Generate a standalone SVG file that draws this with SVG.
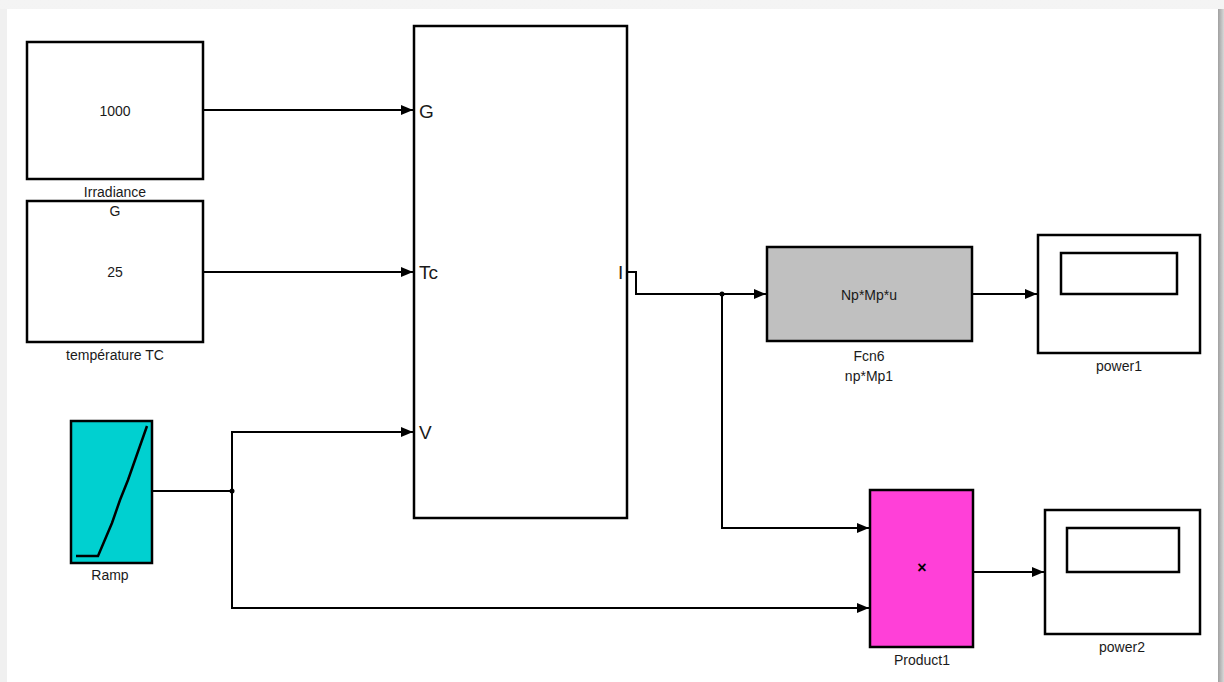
<svg xmlns="http://www.w3.org/2000/svg" width="1224" height="682" viewBox="0 0 1224 682">
<defs>
<linearGradient id="rs" x1="0" y1="0" x2="1" y2="0"><stop offset="0" stop-color="#a0a0a0"/><stop offset="1" stop-color="#d8d8d8"/></linearGradient>
<linearGradient id="ts" x1="0" y1="0" x2="0" y2="1"><stop offset="0" stop-color="#f4f4f4"/><stop offset="1" stop-color="#e6e6e6"/></linearGradient>
<marker id="ah" viewBox="0 0 12 10" refX="12" refY="5" markerWidth="12" markerHeight="10" markerUnits="userSpaceOnUse" orient="auto"><path d="M0,0 L12,5 L0,10 Z" fill="#000"/></marker>
<style>
.blk{fill:#fff;stroke:#000;stroke-width:2.5}
.ln{fill:none;stroke:#000;stroke-width:2}
.t{font-family:"Liberation Sans",Arial,sans-serif;font-size:14px;fill:#1a1a1a;text-anchor:middle}
.p{font-family:"Liberation Sans",Arial,sans-serif;font-size:19px;fill:#1a1a1a}
</style>
</defs>
<rect x="0" y="0" width="1224" height="682" fill="url(#ts)"/>
<rect x="7" y="9" width="1211" height="673" fill="#fff"/>
<rect x="1218" y="9" width="6" height="673" fill="url(#rs)"/>
<rect x="0" y="9" width="7" height="673" fill="#f0f0f0"/>

<g id="temperature">
<rect class="blk" x="27" y="201" width="176" height="141"/>
<text class="t" x="115" y="277">25</text>
<text class="t" x="115" y="360">température TC</text>
</g>
<g id="irradiance">
<rect class="blk" x="27" y="42" width="176" height="137"/>
<text class="t" x="115" y="116">1000</text>
<text class="t" x="115" y="197">Irradiance</text>
<text class="t" x="115" y="216">G</text>
</g>
<g id="pv">
<rect class="blk" x="414" y="26" width="213" height="492"/>
<text class="p" x="419" y="118">G</text>
<text class="p" x="419" y="279">Tc</text>
<text class="p" x="419" y="439">V</text>
<text class="p" x="618" y="279">I</text>
</g>
<g id="ramp">
<rect x="71" y="421" width="81" height="142" fill="#00d0d0" stroke="#000" stroke-width="2.5"/>
<polyline points="76,556 98,556 112,523 120,500 128,480 147,426" fill="none" stroke="#000" stroke-width="2.5"/>
<text class="t" x="110" y="580">Ramp</text>
</g>
<g id="fcn6">
<rect x="767" y="247" width="205" height="94" fill="#c0c0c0" stroke="#000" stroke-width="2.5"/>
<text class="t" x="869" y="300">Np*Mp*u</text>
<text class="t" x="869" y="361">Fcn6</text>
<text class="t" x="869" y="381">np*Mp1</text>
</g>
<g id="power1">
<rect class="blk" x="1038" y="235" width="162" height="118"/>
<rect class="blk" x="1061" y="253" width="116" height="41"/>
<text class="t" x="1119" y="371">power1</text>
</g>
<g id="product1">
<rect x="870" y="490" width="103" height="157" fill="#ff40d8" stroke="#000" stroke-width="2.5"/>
<text x="922" y="573" font-family="Liberation Sans,Arial,sans-serif" font-size="16" font-weight="bold" text-anchor="middle" fill="#000">×</text>
<text class="t" x="922" y="665">Product1</text>
</g>
<g id="power2">
<rect class="blk" x="1045" y="510" width="155" height="124"/>
<rect class="blk" x="1067" y="528" width="112" height="44"/>
<text class="t" x="1122" y="652">power2</text>
</g>

<g id="connectors">
<line class="ln" x1="203" y1="110" x2="413" y2="110" marker-end="url(#ah)"/>
<line class="ln" x1="203" y1="272" x2="413" y2="272" marker-end="url(#ah)"/>
<polyline class="ln" points="627,272 636,272 636,294 766,294" marker-end="url(#ah)"/>
<polyline class="ln" points="722,294 722,528 869,528" marker-end="url(#ah)"/>
<circle cx="722" cy="294" r="2.5" fill="#000"/>
<line class="ln" x1="972" y1="294" x2="1037" y2="294" marker-end="url(#ah)"/>
<line class="ln" x1="152" y1="491" x2="232" y2="491"/>
<polyline class="ln" points="232,491 232,432 413,432" marker-end="url(#ah)"/>
<polyline class="ln" points="232,491 232,608 869,608" marker-end="url(#ah)"/>
<circle cx="232" cy="491" r="2.5" fill="#000"/>
<line class="ln" x1="973" y1="572" x2="1044" y2="572" marker-end="url(#ah)"/>
</g>
</svg>
